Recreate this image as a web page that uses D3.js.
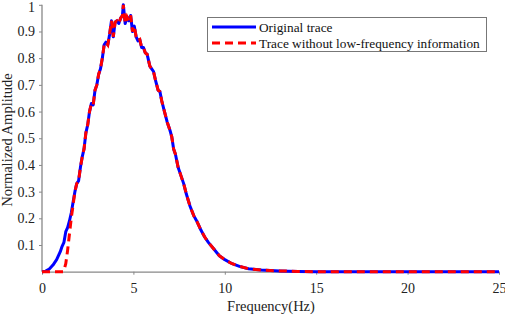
<!DOCTYPE html>
<html><head><meta charset="utf-8">
<script src="https://cdn.jsdelivr.net/npm/d3@7"></script>
<style>body{margin:0;background:#fff}text{font-family:"Liberation Serif","Times New Roman",serif}</style>
</head><body>
<svg id="c" width="505" height="315"></svg>
<script>
const freqOrig = [0,0.2,0.4,0.6,0.8,1.0,1.1,1.2,1.3,1.4,1.5,1.6,1.7,1.8,1.9,2.0,2.1,2.2,2.3,2.4,2.5,2.6,2.7,2.8,2.9,3.0,3.1,3.2,3.3,3.4,3.5,3.6,3.7,3.8,3.9,4.0,4.1,4.2,4.3,4.4,4.45,4.55,4.65,4.75,4.85,4.95,5.05,5.15,5.25,5.35,5.45,5.55,5.65,5.75,5.9,6.0,6.1,6.2,6.35,6.45,6.55,6.7,6.85,7.0,7.1,7.2,7.3,7.45,7.6,7.75,7.9,8.1,8.3,8.5,8.7,8.9,9.1,9.4,9.7,10.0,10.4,10.8,11.3,12.0,13.0,14.0,15.0,25.0];
const ampOrig = [0,0.002,0.01,0.025,0.045,0.075,0.095,0.11,0.15,0.165,0.19,0.22,0.26,0.3,0.33,0.34,0.39,0.43,0.46,0.52,0.55,0.6,0.63,0.625,0.68,0.70,0.74,0.76,0.80,0.85,0.86,0.85,0.89,0.94,0.88,0.935,0.94,0.93,0.95,0.96,1.0,0.93,0.955,0.94,0.96,0.90,0.92,0.88,0.865,0.87,0.84,0.84,0.82,0.815,0.77,0.76,0.75,0.72,0.68,0.675,0.64,0.60,0.56,0.53,0.505,0.46,0.44,0.39,0.36,0.33,0.29,0.245,0.21,0.185,0.155,0.13,0.11,0.085,0.06,0.045,0.03,0.02,0.011,0.006,0.003,0.001,0,0];
const freqLow = [0,0.6,1.15,1.2,1.3,1.4,1.5,1.6,1.7,1.8,1.9,2.0,2.1,2.2,2.3,2.4,2.5,2.6,2.7,2.8,2.9,3.0,3.1,3.2,3.3,3.4,3.5,3.6,3.7,3.8,3.9,4.0,4.1,4.2,4.3,4.4,4.45,4.55,4.65,4.75,4.85,4.95,5.05,5.15,5.25,5.35,5.45,5.55,5.65,5.75,5.9,6.0,6.1,6.2,6.35,6.45,6.55,6.7,6.85,7.0,7.1,7.2,7.3,7.45,7.6,7.75,7.9,8.1,8.3,8.5,8.7,8.9,9.1,9.4,9.7,10.0,10.4,10.8,11.3,12.0,13.0,14.0,15.0,25.0];
const ampLow = [0,0,0,0.005,0.03,0.08,0.14,0.2,0.25,0.3,0.33,0.34,0.39,0.43,0.46,0.52,0.55,0.6,0.63,0.625,0.68,0.70,0.74,0.76,0.80,0.85,0.86,0.85,0.89,0.94,0.88,0.935,0.94,0.93,0.95,0.96,1.0,0.93,0.955,0.94,0.96,0.90,0.92,0.88,0.865,0.87,0.84,0.84,0.82,0.815,0.77,0.76,0.75,0.72,0.68,0.675,0.64,0.60,0.56,0.53,0.505,0.46,0.44,0.39,0.36,0.33,0.29,0.245,0.21,0.185,0.155,0.13,0.11,0.085,0.06,0.045,0.03,0.02,0.011,0.006,0.003,0.001,0,0];
const xTicks = [0,5,10,15,20,25];
const yTicks = [0.1,0.2,0.3,0.4,0.5,0.6,0.7,0.8,0.9,1];
const seriesNames = ["Original trace","Trace without low-frequency information"];

const svg = d3.select("#c");
const x = d3.scaleLinear().domain([0,25]).range([42,499]);
const y = d3.scaleLinear().domain([0,1]).range([271.7,4.8]);
const axisCol = "#888", txtCol = "#222";

const xa = svg.append("g").attr("transform","translate(0,271.7)")
  .call(d3.axisBottom(x).tickValues(xTicks).tickFormat(d3.format("d")).tickSize(3).tickPadding(8).tickSizeOuter(0));
const ya = svg.append("g").attr("transform","translate(42,0)")
  .call(d3.axisLeft(y).tickValues(yTicks).tickFormat(d=>d===1?"1":d3.format(".1f")(d)).tickSize(3).tickPadding(4).tickSizeOuter(0));
[xa,ya].forEach(g=>{
  g.select(".domain").attr("stroke",axisCol).attr("stroke-width",1.3);
  g.selectAll(".tick line").attr("stroke",axisCol);
  g.selectAll(".tick text").attr("fill",txtCol).style("font-size","14px").style("font-family","'Liberation Serif',serif");
});
ya.select(".domain").attr("d","M0,271.7V4.8");
ya.selectAll(".tick text").filter(d=>d===1).attr("dy","0.45em");

const line = d3.line().x(d=>x(d[0])).y(d=>y(d[1]));
const blue = freqOrig.map((f,i)=>[f,ampOrig[i]]);
const red = freqLow.map((f,i)=>[f,ampLow[i]]);
svg.append("path").datum(blue).attr("d",line).attr("fill","none").attr("stroke","#0000ff").attr("stroke-width",3).attr("stroke-linejoin","round");
svg.append("path").datum(red).attr("d",line).attr("fill","none").attr("stroke","#ff0000").attr("stroke-width",3).attr("stroke-dasharray","8,5");

svg.append("text").attr("x",271).attr("y",311).attr("text-anchor","middle").attr("fill",txtCol).style("font-size","14.5px").text("Frequency(Hz)");
svg.append("text").attr("transform","translate(12,140) rotate(-90)").attr("text-anchor","middle").attr("fill",txtCol).style("font-size","14.5px").text("Normalized Amplitude");

const lg = svg.append("g");
lg.append("rect").attr("x",207.5).attr("y",17.5).attr("width",279).attr("height",34).attr("fill","#fff").attr("stroke","#777").attr("stroke-width",1);
const cols = ["#0000ff","#ff0000"], dash = [null,"8,5"];
seriesNames.forEach((n,i)=>{
  const yy = 27 + i*16;
  lg.append("line").attr("x1",212).attr("x2",256).attr("y1",yy).attr("y2",yy).attr("stroke",cols[i]).attr("stroke-width",3).attr("stroke-dasharray",dash[i]);
  lg.append("text").attr("x",259).attr("y",yy+4.5).attr("fill","#111").style("font-size","13.3px").text(n);
});
</script>
</body></html>
